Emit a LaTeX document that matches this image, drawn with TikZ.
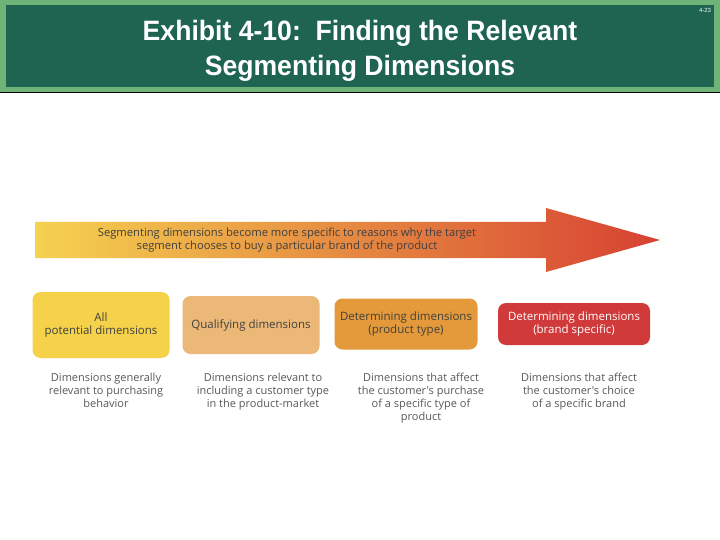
\documentclass[tikz,border=0pt]{standalone}
\usepackage{fontspec}
\setmainfont{Liberation Sans}
\newfontfamily\bodyf{Open Sans}
\definecolor{lgreen}{RGB}{110,180,120}
\definecolor{dgreen}{RGB}{30,100,80}
\definecolor{ayel}{RGB}{245,210,80}
\definecolor{aor}{RGB}{238,160,60}
\definecolor{ared}{RGB}{215,65,50}
\definecolor{c1}{RGB}{245,210,74}
\definecolor{c2}{RGB}{235,184,120}
\definecolor{c3}{RGB}{228,154,58}
\definecolor{c4}{RGB}{208,58,58}
\begin{document}
\begin{tikzpicture}[x=1pt,y=-1pt,
  box/.style={rounded corners=8pt, align=center, font=\bodyf\fontsize{11.5}{13}\selectfont, text=black!75},
  desc/.style={align=center, font=\bodyf\fontsize{11}{13}\selectfont, text=black!65, anchor=north}]
\useasboundingbox (0,0) rectangle (720,540);
\fill[white] (0,0) rectangle (720,540);
\fill[lgreen] (0,0) rectangle (720,93);
\fill[dgreen] (6,5) rectangle (714,87);
\draw[black, line width=1pt] (0,93) -- (720,93);
\node[text=white, font=\bfseries\fontsize{28}{35}\selectfont, align=center, xscale=0.95] (title) at (360,51) {Exhibit 4-10:\ \ Finding the Relevant\\Segmenting Dimensions};
\node[text=white, font=\fontsize{6}{7}\selectfont] (pg) at (705,10) {4-23};
\shade[left color=ayel, middle color=aor, right color=ared]
  (35,222) -- (546,222) -- (546,208) -- (660,240) -- (546,272) -- (546,258) -- (35,258) -- cycle;
\node[font=\bodyf\fontsize{11.2}{13}\selectfont, text=black!75, align=center] (at) at (287,240) {Segmenting dimensions become more specific to reasons why the target\\segment chooses to buy a particular brand of the product};
\node[box, fill=c1, minimum width=137pt, minimum height=66pt] (b1) at (101,325) {All\\potential dimensions};
\node[box, fill=c2, minimum width=137pt, minimum height=58pt] (b2) at (251,325) {Qualifying dimensions};
\node[box, fill=c3, minimum width=143pt, minimum height=51pt] (b3) at (406,324) {Determining dimensions\\(product type)};
\node[box, fill=c4, text=white, minimum width=152pt, minimum height=42pt] (b4) at (574,324) {Determining dimensions\\(brand specific)};
\node[desc] (d1) at (106,370) {Dimensions generally\\relevant to purchasing\\behavior};
\node[desc] (d2) at (263,370) {Dimensions relevant to\\including a customer type\\in the product-market};
\node[desc] (d3) at (421,370) {Dimensions that affect\\the customer's purchase\\of a specific type of\\product};
\node[desc] (d4) at (579,370) {Dimensions that affect\\the customer's choice\\of a specific brand};
\end{tikzpicture}
\end{document}
